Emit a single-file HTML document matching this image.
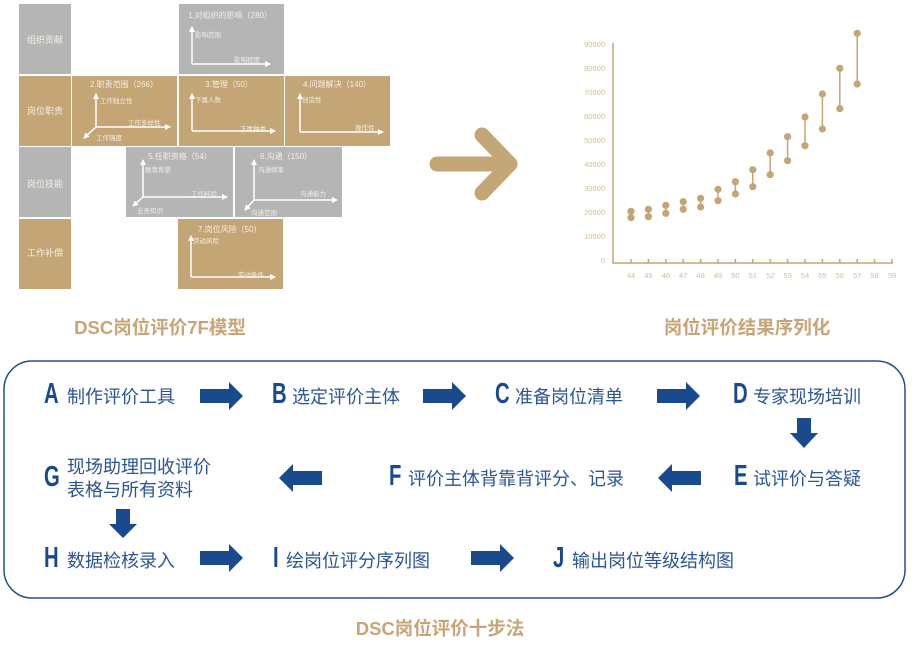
<!DOCTYPE html>
<html><head><meta charset="utf-8"><style>
body{margin:0;background:#fff;width:912px;height:645px;overflow:hidden;position:relative;font-family:"Liberation Sans","Noto Sans CJK SC",sans-serif}
svg{position:absolute;left:0;top:0}
</style></head><body>
<svg width="912" height="645" viewBox="0 0 912 645" font-family="Liberation Sans, Noto Sans CJK SC, sans-serif">
<defs>
<marker id="ah" markerWidth="6" markerHeight="6" refX="5" refY="3" orient="auto" markerUnits="userSpaceOnUse"><path d="M0,0 L6,3 L0,6 z" fill="#fff"/></marker>
</defs>
<g>
<rect x="19" y="4" width="52" height="70" fill="#b5b5b5"/>
<rect x="19" y="76" width="52" height="70" fill="#c4a575"/>
<rect x="19" y="147" width="52" height="70" fill="#b5b5b5"/>
<rect x="19" y="219" width="52" height="70" fill="#c4a575"/>
<rect x="179" y="4" width="105" height="70" fill="#b5b5b5"/>
<rect x="72" y="76" width="105" height="70" fill="#c4a575"/>
<rect x="179" y="76" width="105" height="70" fill="#c4a575"/>
<rect x="285" y="76" width="105" height="70" fill="#c4a575"/>
<rect x="126" y="147" width="107" height="70" fill="#b5b5b5"/>
<rect x="235" y="147" width="107" height="70" fill="#b5b5b5"/>
<rect x="178" y="219" width="105" height="70" fill="#c4a575"/>
</g>
<g fill="#f4efe6" font-size="9" text-anchor="middle">
<text x="45" y="43">组织贡献</text>
<text x="45" y="114">岗位职责</text>
<text x="45" y="187">岗位技能</text>
<text x="45" y="256">工作补偿</text>
</g>
<g stroke="#fff" stroke-width="1.5" fill="none" marker-end="url(#ah)">
<path d="M192,64 V27"/><path d="M192,64 H270"/>
<path d="M96,127 V94"/><path d="M96,127 H170"/><path d="M96,127 L84,138"/>
<path d="M192,131 V94"/><path d="M192,131 H275"/>
<path d="M300,132 V94"/><path d="M300,132 H383"/>
<path d="M143,197 V160"/><path d="M143,197 H227"/><path d="M143,197 L133,206"/>
<path d="M254,200 V160"/><path d="M254,200 H337"/><path d="M254,200 L245,210"/>
<path d="M191,277 V236"/><path d="M191,277 H275"/>
</g>
<g fill="#f4efe6" font-size="8">
<text x="230" y="18" text-anchor="middle">1.对组织的影响（280）</text>
<text x="195" y="37" font-size="6.5">影响范围</text>
<text x="234" y="62" font-size="6.5">影响程度</text>
<text x="124" y="87" text-anchor="middle">2.职责范围（266）</text>
<text x="100" y="103" font-size="6.5">工作独立性</text>
<text x="128" y="125" font-size="6.5">工作多样性</text>
<text x="96" y="140" font-size="6.5">工作强度</text>
<text x="229" y="87" text-anchor="middle">3.管理（50）</text>
<text x="195" y="102" font-size="6.5">下属人数</text>
<text x="240" y="131" font-size="6.5">下属种类</text>
<text x="303" y="87">4.问题解决（140）</text>
<text x="302" y="102" font-size="6.5">创造性</text>
<text x="355" y="130" font-size="6.5">操作性</text>
<text x="180" y="159" text-anchor="middle">5.任职资格（54）</text>
<text x="145" y="172" font-size="6.5">教育背景</text>
<text x="191" y="196" font-size="6.5">工作经验</text>
<text x="137" y="213" font-size="6.5">业务知识</text>
<text x="260" y="159">6.沟通（150）</text>
<text x="258" y="172" font-size="6.5">沟通频率</text>
<text x="300" y="196" font-size="6.5">沟通能力</text>
<text x="251" y="215" font-size="6.5">沟通范围</text>
<text x="198" y="232">7.岗位风险（50）</text>
<text x="193" y="243" font-size="6.5">劳动风险</text>
<text x="238" y="277" font-size="6.5">劳动条件</text>
</g>
<g stroke="#c4a575" stroke-width="15" stroke-linecap="round" stroke-linejoin="round" fill="none">
<path d="M437,164 H508"/><path d="M482,135 L510,164 L482,193"/>
</g>
<g stroke="#c4a575" stroke-width="1.5" fill="none">
<path d="M613,43 V263 H893"/>
</g>
<g fill="#d4bc98" font-size="7.5" text-anchor="end">
<text x="605" y="47">90000</text><text x="605" y="71">80000</text><text x="605" y="95">70000</text>
<text x="605" y="119">60000</text><text x="605" y="143">50000</text><text x="605" y="167">40000</text>
<text x="605" y="191">30000</text><text x="605" y="215">20000</text><text x="605" y="239">10000</text>
<text x="605" y="263">0</text>
</g>
<g id="ch" fill="#c4a575" stroke="#c4a575" stroke-width="1.5"></g>
<g fill="#d4bc98" font-size="7.5" text-anchor="middle" id="xl"></g>
<g fill="#c8a577" font-size="18.5" font-weight="bold" text-anchor="middle">
<text x="160" y="334">DSC岗位评价7F模型</text>
<text x="747" y="334">岗位评价结果序列化</text>
<text x="440" y="635">DSC岗位评价十步法</text>
</g>
<rect x="4" y="361" width="901" height="237" rx="28" fill="none" stroke="#20508f" stroke-width="1.5"/>
<g fill="#1a4a8e" font-size="29" font-weight="bold">
<text transform="translate(44,403) scale(0.7,1)">A</text>
<text transform="translate(272,403) scale(0.7,1)">B</text>
<text transform="translate(495,403) scale(0.7,1)">C</text>
<text transform="translate(733,403) scale(0.7,1)">D</text>
<text transform="translate(734,485) scale(0.7,1)">E</text>
<text transform="translate(389,485) scale(0.7,1)">F</text>
<text transform="translate(44,486) scale(0.7,1)">G</text>
<text transform="translate(44,567) scale(0.7,1)">H</text>
<text transform="translate(273,567) scale(0.7,1)">I</text>
<text transform="translate(553,567) scale(0.7,1)">J</text>
</g>
<g fill="#2a5596" font-size="18">
<text x="67" y="403">制作评价工具</text>
<text x="292" y="403">选定评价主体</text>
<text x="515" y="403">准备岗位清单</text>
<text x="753" y="403">专家现场培训</text>
<text x="753" y="485">试评价与答疑</text>
<text x="408" y="485">评价主体背靠背评分、记录</text>
<text x="67" y="473">现场助理回收评价</text>
<text x="67" y="496">表格与所有资料</text>
<text x="67" y="567">数据检核录入</text>
<text x="286" y="567">绘岗位评分序列图</text>
<text x="572" y="567">输出岗位等级结构图</text>
</g>
<g fill="#1a4a8e">
<path d="M200,389 H229 V382 L243,396 L229,410 V403 H200 Z"/>
<path d="M423,389 H452 V382 L466,396 L452,410 V403 H423 Z"/>
<path d="M657,389 H686 V382 L700,396 L686,410 V403 H657 Z"/>
<path d="M200,551 H229 V544 L243,558 L229,572 V565 H200 Z"/>
<path d="M471,551 H500 V544 L514,558 L500,572 V565 H471 Z"/>
<path d="M701,471 H672 V464 L658,478 L672,492 V485 H701 Z"/>
<path d="M322,471 H293 V464 L279,478 L293,492 V485 H322 Z"/>
<path d="M797,418 V433 H790 L804,448 L818,433 H811 V418 Z"/>
<path d="M116,509 V524 H109 L123,538 L137,524 H130 V509 Z"/>
</g>
</svg>
<script>
var d=[[211.3,217.7],[209.3,216.7],[205.3,213.3],[201.7,209.3],[198.3,207],[189.3,200.7],[181.7,194],[169.7,186.7],[153,174.7],[136.7,160.7],[117,145.7],[94,129],[68.3,108.7],[33.3,84]];
var ns="http://www.w3.org/2000/svg",g=document.getElementById('ch'),xl=document.getElementById('xl');
function el(t,a,p){var e=document.createElementNS(ns,t);for(var k in a)e.setAttribute(k,a[k]);p.appendChild(e);return e;}
for(var i=0;i<16;i++){var x=631+i*17.4;
el('line',{x1:x,y1:259,x2:x,y2:263},g);
var t=el('text',{x:x,y:278},xl);t.textContent=44+i;
if(i<d.length){el('line',{x1:x,y1:d[i][0],x2:x,y2:d[i][1]},g);
el('circle',{cx:x,cy:d[i][0],r:3.6,stroke:'none'},g);el('circle',{cx:x,cy:d[i][1],r:3.6,stroke:'none'},g);}}
</script>
</body></html>
